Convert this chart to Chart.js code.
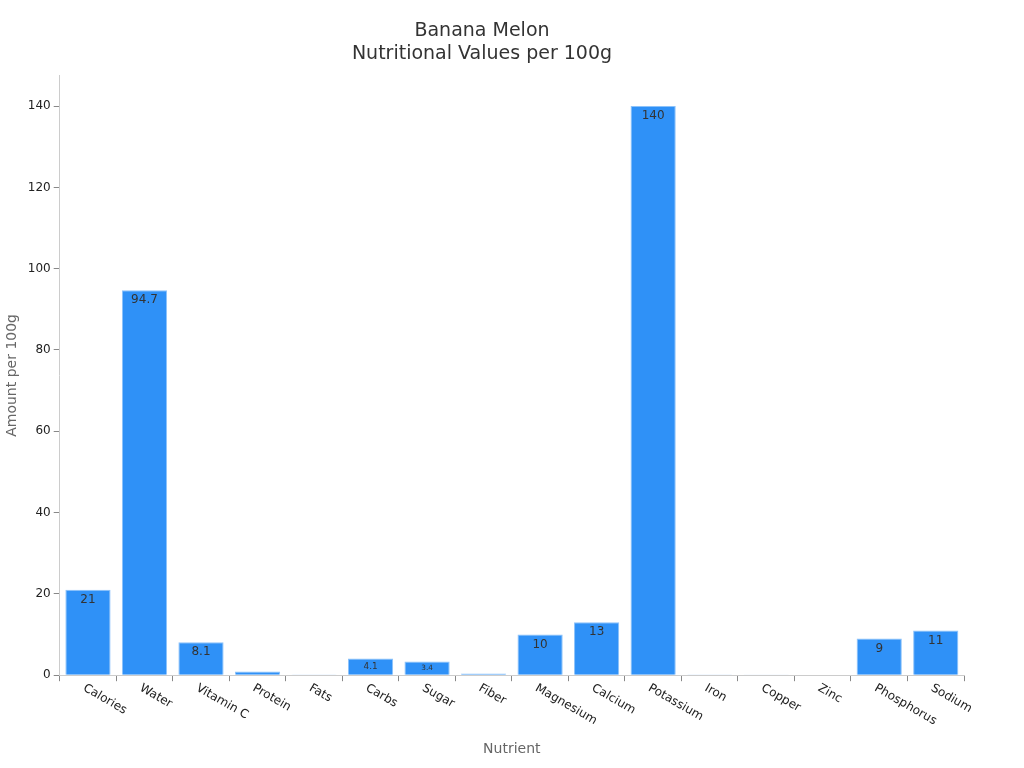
<!DOCTYPE html>
<html>
<head>
<meta charset="utf-8">
<script src="https://cdn.jsdelivr.net/npm/chart.js@4"></script>
<style>
body { margin: 0; background: #fff; }
</style>
</head>
<body>
<canvas id="chart" width="1024" height="768"></canvas>
<script>
const nutrients = ["Calories", "Water", "Vitamin C", "Protein", "Fats", "Carbs", "Sugar", "Fiber", "Magnesium", "Calcium", "Potassium", "Iron", "Copper", "Zinc", "Phosphorus", "Sodium"];
const amounts = [21, 94.7, 8.1, 0.9, 0.2, 4.1, 3.4, 0.4, 10, 13, 140, 0.2, 0.04, 0.1, 9, 11];
const labels = ["21", "94.7", "8.1", "0.9", "", "4.1", "3.4", "", "10", "13", "140", "", "", "", "9", "11"];

// value labels inside the top of each bar, shrunk for short bars
const barLabels = {
    id: "barLabels",
    afterDatasetsDraw(chart) {
        let ctx = chart.ctx;
        let meta = chart.getDatasetMeta(0);
        meta.data.forEach((bar, i) => {
            if (!labels[i]) return;
            let h = bar.base - bar.y;
            let size = Math.min(12, h * 0.55);
            if (size < 3) return;
            ctx.save();
            ctx.fillStyle = "#333";
            ctx.font = size + "px 'DejaVu Sans'";
            ctx.textAlign = "center";
            ctx.textBaseline = "middle";
            let y = h > 24 ? bar.y + 10 : bar.y + h / 2;
            ctx.fillText(labels[i], bar.x, y);
            ctx.restore();
        });
    }
};

// x labels rotated clockwise, starting at the tick
const xLabels = {
    id: "xLabels",
    afterDraw(chart) {
        let ctx = chart.ctx;
        let sx = chart.scales.x;
        let y0 = sx.top + 12;
        nutrients.forEach((n, i) => {
            let x = sx.getPixelForTick(i);
            ctx.save();
            ctx.translate(x - 4, y0);
            ctx.rotate(Math.PI / 6);
            ctx.fillStyle = "#222";
            ctx.font = "12px 'DejaVu Sans'";
            ctx.textAlign = "left";
            ctx.textBaseline = "middle";
            ctx.fillText(n, 0, 0);
            ctx.restore();
        });
    }
};

Chart.defaults.font.family = "'DejaVu Sans'";
new Chart(document.getElementById("chart"), {
    type: "bar",
    data: {
        labels: nutrients,
        datasets: [{
            data: amounts,
            backgroundColor: "#2f91f7",
            borderColor: "#8cc2fa",
            borderWidth: 1,
            categoryPercentage: 1,
            barPercentage: 0.8
        }]
    },
    options: {
        responsive: false,
        animation: false,
        layout: { padding: { left: 0, right: 60, top: 10, bottom: 6 } },
        plugins: {
            legend: { display: false },
            tooltip: { enabled: false },
            title: {
                display: true,
                text: ["Banana Melon", "Nutritional Values per 100g"],
                color: "#333",
                font: { size: 19, weight: "normal" },
                padding: { top: 10, bottom: 10 }
            }
        },
        scales: {
            x: {
                grid: { display: true, drawOnChartArea: false, drawTicks: true, tickLength: 6, color: "#888" },
                border: { color: "#ccc" },
                ticks: { display: false },
                title: { display: true, text: "Nutrient", color: "#666", font: { size: 14 }, padding: { top: 60 } }
            },
            y: {
                min: 0,
                max: 147.5,
                grid: { display: true, drawOnChartArea: false, tickLength: 6, color: "#888" },
                border: { color: "#ccc" },
                ticks: { stepSize: 20, color: "#222", font: { size: 12 }, callback: v => v % 20 === 0 ? v : null },
                title: { display: true, text: "Amount per 100g", color: "#666", font: { size: 14 } }
            }
        }
    },
    plugins: [barLabels, xLabels]
});
</script>
</body>
</html>
